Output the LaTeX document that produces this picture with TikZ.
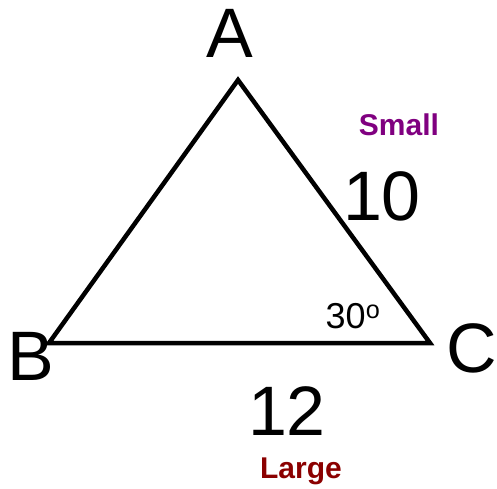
\documentclass[tikz,border=0pt]{standalone}
\usepackage{fontspec}
\setmainfont{Liberation Sans}
\definecolor{smallpurple}{RGB}{128,0,128}
\definecolor{largered}{RGB}{139,0,0}
\begin{document}
\begin{tikzpicture}[x=1pt,y=-1pt,
  big/.style={inner sep=0pt,anchor=base,font=\fontsize{70}{70}\selectfont},
  angle label/.style={inner sep=0pt,anchor=base,font=\fontsize{36}{36}\selectfont},
  word/.style={inner sep=0pt,anchor=base,font=\fontsize{30}{30}\selectfont\bfseries},
  side/.style={line width=4.5pt,black,miter limit=10}]
\useasboundingbox (0,0) rectangle (497,488);
\coordinate (vA) at (238,80);
\coordinate (vB) at (49,343);
\coordinate (vC) at (430,343);
\draw[side] (vA) -- (vB) -- (vC) -- cycle;
\node[big] (lA) at (230,57) {A};
\node[big] (lB) at (31,380) {B};
\node[big] (lC) at (472,372) {C};
\node[big] (l10) at (382,220) {10};
\node[big] (l12) at (287,435) {12};
\node[angle label] (ang) at (353,328) {30\textsuperscript{o}};
\node[word,text=smallpurple] (small) at (399,135) {Small};
\node[word,text=largered] (large) at (301,478) {Large};
\end{tikzpicture}
\end{document}
